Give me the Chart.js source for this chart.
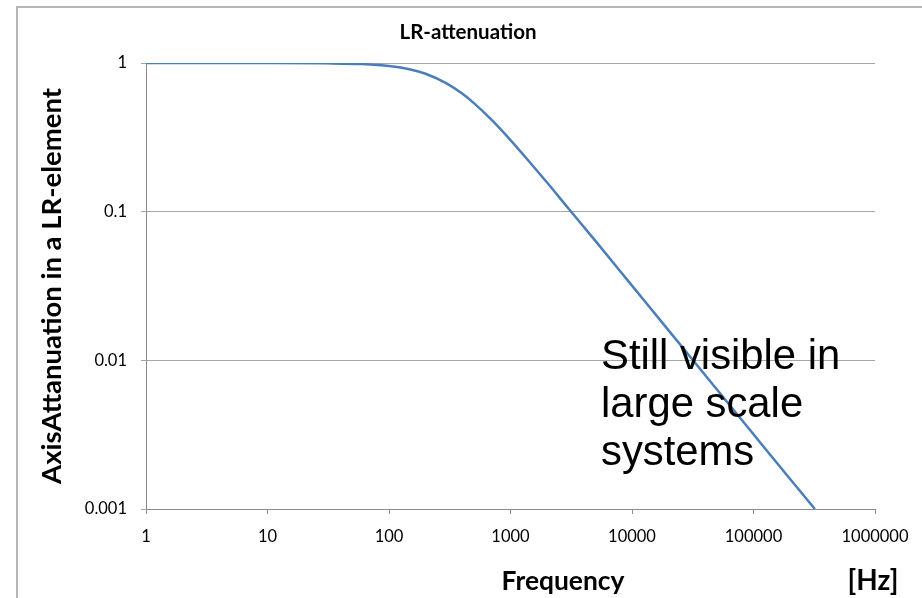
<!DOCTYPE html>
<html>
<head>
<meta charset="utf-8">
<script src="https://cdn.jsdelivr.net/npm/chart.js@4/dist/chart.umd.min.js"></script>
<style>
    html, body { margin: 0; padding: 0; background: #fff; }
    #wrap { width: 922px; height: 598px; }
</style>
</head>
<body>
<div id="wrap"><canvas id="lr"></canvas></div>
<script>
// values
var freq = [1, 10, 30, 60, 100, 150, 200, 300, 400, 500, 700, 1000, 1500, 2000, 3000, 5000, 10000, 20000, 50000, 100000, 200000, 320000];
var atten = [1.0, 1.0, 0.995, 0.983, 0.954, 0.905, 0.847, 0.727, 0.623, 0.537, 0.414, 0.303, 0.207, 0.157, 0.105, 0.0636, 0.0318, 0.0159, 0.00637, 0.00318, 0.00159, 0.001];
var xTicks = [1, 10, 100, 1000, 10000, 100000, 1000000];
var yTicks = [0.001, 0.01, 0.1, 1];

var chartTitle = 'LR-attenuation';
var yTitle = 'AxisAttanuation in a LR-element';
var xTitle = 'Frequency';
var xUnit = '[Hz]';
var note = ['Still visible in', 'large scale', 'systems'];

// find a font size so text gets a given width
function fitFont(ctx, txt, width, weight, family) {
    ctx.font = weight + ' 100px ' + family;
    var size = 100 * width / ctx.measureText(txt).width;
    return weight + ' ' + size.toFixed(1) + 'px ' + family;
}

var textPlugin = {
    id: 'lrText',
    beforeDraw: function (chart) {
        var ctx = chart.ctx;
        ctx.save();
        ctx.fillStyle = '#fff';
        ctx.fillRect(0, 0, chart.width, chart.height);
        // outer frame, runs off the picture right and bottom
        ctx.strokeStyle = '#b4b4b4';
        ctx.lineWidth = 2;
        ctx.strokeRect(17, 7, 1000, 1000);
        ctx.restore();
    },
    afterDraw: function (chart) {
        var ctx = chart.ctx;
        var area = chart.chartArea;
        ctx.save();
        ctx.fillStyle = '#000';
        ctx.textAlign = 'center';
        ctx.textBaseline = 'middle';

        ctx.font = fitFont(ctx, chartTitle, 137, 'bold', 'Lato');
        ctx.fillText(chartTitle, 468, 32);

        ctx.font = fitFont(ctx, xTitle, 123, 'bold', 'Lato');
        ctx.fillText(xTitle, 563, 581);
        ctx.font = fitFont(ctx, xUnit, 51, 'bold', 'Lato');
        ctx.fillText(xUnit, 873, 581);

        ctx.save();
        ctx.translate(52, (area.top + area.bottom) / 2);
        ctx.rotate(-Math.PI / 2);
        ctx.font = fitFont(ctx, yTitle, 396, 'bold', 'Lato');
        ctx.fillText(yTitle, 0, 0);
        ctx.restore();

        // free text box on the plot
        ctx.textAlign = 'left';
        ctx.textBaseline = 'alphabetic';
        ctx.font = fitFont(ctx, note[0], 239, 'normal', '"Liberation Sans"');
        for (var i = 0; i < note.length; i++) {
            ctx.fillText(note[i], 601, 369 + i * 48);
        }
        ctx.restore();
    }
};

window.onload = function () {
    var ctx = document.getElementById('lr').getContext('2d');
    var points = [];
    for (var i = 0; i < freq.length; i++) {
        points.push({ x: freq[i], y: atten[i] });
    }

    window.lrChart = new Chart(ctx, {
        type: 'line',
        data: {
            datasets: [{
                label: 'LR',
                data: points,
                borderColor: '#4a7ebb',
                borderWidth: 2.5,
                pointRadius: 0,
                fill: false,
                cubicInterpolationMode: 'monotone'
            }]
        },
        options: {
            responsive: true,
            maintainAspectRatio: false,
            animation: false,
            layout: {
                padding: { top: 63, right: 47, bottom: 0, left: 0 }
            },
            plugins: {
                legend: { display: false },
                title: { display: false },
                tooltip: { enabled: false }
            },
            scales: {
                x: {
                    type: 'logarithmic',
                    min: 1,
                    max: 1000000,
                    afterBuildTicks: function (scale) {
                        scale.ticks = xTicks.map(function (v) { return { value: v }; });
                    },
                    afterFit: function (scale) {
                        scale.height = 89;
                    },
                    ticks: {
                        color: '#000',
                        font: { family: 'Lato', size: 16.5 },
                        padding: 13,
                        maxRotation: 0,
                        autoSkip: false,
                        callback: function (value) { return String(value); }
                    },
                    grid: {
                        drawOnChartArea: false,
                        drawTicks: true,
                        tickLength: 5,
                        color: '#8c8c8c'
                    },
                    border: { display: true, color: '#8c8c8c' }
                },
                y: {
                    type: 'logarithmic',
                    min: 0.001,
                    max: 1,
                    afterBuildTicks: function (scale) {
                        scale.ticks = yTicks.map(function (v) { return { value: v }; });
                    },
                    afterFit: function (scale) {
                        scale.width = 146;
                    },
                    ticks: {
                        color: '#000',
                        font: { family: 'Lato', size: 16.5 },
                        padding: 14,
                        autoSkip: false,
                        callback: function (value) { return String(value); }
                    },
                    grid: {
                        color: '#a6a6a6',
                        tickLength: 5
                    },
                    border: { display: true, color: '#8c8c8c' }
                }
            }
        },
        plugins: [textPlugin]
    });
};
</script>
</body>
</html>
